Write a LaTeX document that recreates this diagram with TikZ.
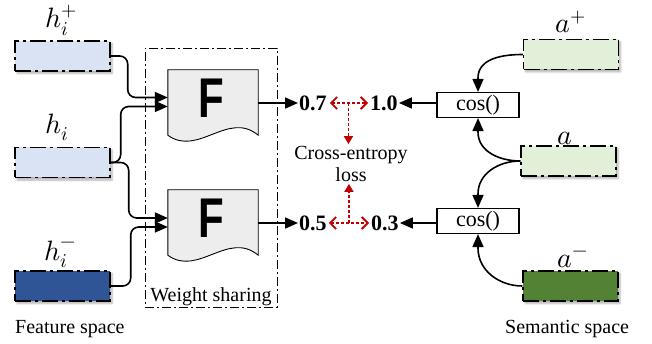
\documentclass[tikz,border=0pt]{standalone}
\usepackage{fontspec}
\usepackage{unicode-math}
\setmainfont{Liberation Serif}
\newfontfamily\Ffont{Liberation Sans}
\usetikzlibrary{arrows.meta,shadows.blur,calc}
\definecolor{lblue}{HTML}{DAE3F3}
\definecolor{dblue}{HTML}{2F5597}
\definecolor{lgreen}{HTML}{E2F0D9}
\definecolor{dgreen}{HTML}{548235}
\definecolor{docgray}{HTML}{EDEDED}
\definecolor{cered}{HTML}{C00000}
\tikzset{
  featbox/.style={draw, line width=1.4pt, dash pattern=on 16pt off 4pt on 3pt off 4pt,
    minimum width=95pt, minimum height=30pt, inner sep=0pt,
    blur shadow={shadow xshift=2pt, shadow yshift=-2.5pt, shadow blur steps=6, shadow opacity=30}},
  wsbox/.style={draw, line width=0.9pt, dash pattern=on 9pt off 3pt on 2pt off 3pt,
    minimum width=132pt, minimum height=259pt, inner sep=0pt},
  docnode/.style={minimum width=90pt, minimum height=65pt, inner sep=0pt},
  docshape/.style={draw, fill=docgray, line width=0.9pt},
  Fletter/.style={font=\Ffont\bfseries\fontsize{56}{56}\selectfont, inner sep=0pt},
  mlabel/.style={font=\fontsize{28}{30}\selectfont, inner sep=0pt, anchor=base},
  txt/.style={font=\fontsize{20}{22}\selectfont, inner sep=1.5pt},
  numb/.style={font=\bfseries\fontsize{22}{24}\selectfont, inner sep=1pt, anchor=west},
  cosbox/.style={draw, line width=1.1pt, fill=white, minimum width=82pt, minimum height=25pt,
    inner sep=0pt, font=\fontsize{22}{24}\selectfont},
  conn/.style={line width=1.6pt, -{Triangle[length=13pt,width=11pt]}},
  redline/.style={draw=cered, line width=1.8pt, dash pattern=on 3pt off 2pt},
  redboth/.style={redline, {Straight Barb[length=6pt,width=12pt,line width=1.8pt]}-{Straight Barb[length=6pt,width=12pt,line width=1.8pt]}},
  redone/.style={redline, -{Triangle[length=8pt,width=9pt]}}
}
\begin{document}
\begin{tikzpicture}[x=1pt,y=1pt]
\useasboundingbox (0,0) rectangle (652,-344);

% weight sharing frame
\node[wsbox] (ws) at (211,-177.5) {};
\node[txt, anchor=south] (wst) at (ws.south) {Weight sharing};

% F documents
\node[docnode] (F1) at (213,-102.5) {};
\draw[docshape] (F1.north west) -- (F1.north east) -- (F1.south east)
  .. controls +(-30,25) and +(30,-22) .. (F1.south west) -- cycle;
\node[Fletter] (F1t) at ([xshift=-2pt,yshift=4.5pt]F1.center) {\scalebox{0.75}[1]{F}};
\node[docnode] (F2) at (213,-222.5) {};
\draw[docshape] (F2.north west) -- (F2.north east) -- (F2.south east)
  .. controls +(-30,25) and +(30,-22) .. (F2.south west) -- cycle;
\node[Fletter] (F2t) at ([xshift=-2pt,yshift=4.5pt]F2.center) {\scalebox{0.75}[1]{F}};

% feature boxes
\node[featbox, fill=lblue] (hp) at (62.5,-56) {};
\node[featbox, fill=lblue] (hi) at (62.5,-162.5) {};
\node[featbox, fill=dblue] (hm) at (62.5,-286) {};
\node[mlabel] (hpl) at (61,-28) {$h_i^+$};
\node[mlabel] (hil) at (57,-134) {$h_i$};
\node[mlabel] (hml) at (60,-260) {$h_i^{\raisebox{2.5pt}{$\scriptstyle -$}}$};

% semantic boxes
\node[featbox, fill=lgreen] (ap) at (571,-54.5) {};
\node[featbox, fill=lgreen] (aa) at (568.5,-161) {};
\node[featbox, fill=dgreen] (am) at (570.5,-286) {};
\node[mlabel] (apl) at (571,-33) {$a^+$};
\node[mlabel] (aal) at (565,-145) {$a$};
\node[mlabel] (aml) at (573,-267) {$a^-$};

% captions
\node[txt, anchor=base west, inner sep=0pt] (fs) at (15,-333) {Feature space};
\node[txt, anchor=base west, inner sep=0pt] (ss) at (505,-333) {Semantic space};

% numbers
\node[numb] (n07) at (298,-103) {0.7};
\node[numb] (n10) at (369,-103) {1.0};
\node[numb] (n05) at (298,-223) {0.5};
\node[numb] (n03) at (370,-223) {0.3};

% cos boxes
\node[cosbox] (c1) at (478,-105) {cos()};
\node[cosbox] (c2) at (478,-221) {cos()};

% loss
\node[txt, align=center, inner sep=2pt] (loss) at (351,-164) {Cross-entropy\\loss};

% left connectors
\begin{scope}[rounded corners=8pt]
\draw[conn] (hp.east) -- ++(17,0) |- ([yshift=5pt]F1.west);
\draw[conn] (hi.east) -- ++(10,0) |- ([yshift=-4pt]F1.west);
\draw[conn] (hi.east) -- ++(18,0) |- ([yshift=4.5pt]F2.west);
\draw[conn] (hm.east) -- ++(20,0) |- ([yshift=-4.5pt]F2.west);
\end{scope}

% outputs
\draw[conn] (F1.east |- n07.west) -- (n07.west);
\draw[conn] (F2.east |- n05.west) -- (n05.west);
\draw[conn] (c1.west |- n10.east) -- (n10.east);
\draw[conn] (c2.west |- n03.east) -- (n03.east);

% right connectors
\draw[conn] (ap.west) to[out=180,in=90] ([yshift=14pt]c1.north) -- (c1.north);
\draw[conn] (aa.west) to[out=180,in=-90] ([yshift=-14pt]c1.south) -- (c1.south);
\draw[conn] (aa.west) to[out=180,in=90] ([yshift=14pt]c2.north) -- (c2.north);
\draw[conn] (am.west) to[out=180,in=-90] ([yshift=-14pt]c2.south) -- (c2.south);

% red loss arrows
\coordinate (m1) at ($(n07.east)!0.5!(n10.west)$);
\coordinate (m2) at ($(n05.east)!0.5!(n03.west)$);
\draw[redboth] ([xshift=2pt]n07.east) -- ([xshift=-1pt]n10.west);
\draw[redboth] ([xshift=1pt]n05.east) -- ([xshift=-1pt]n03.west);
\draw[redone] (m1) -- (m1 |- loss.north);
\draw[redone] (m2) -- (m2 |- loss.south);
\end{tikzpicture}
\end{document}
